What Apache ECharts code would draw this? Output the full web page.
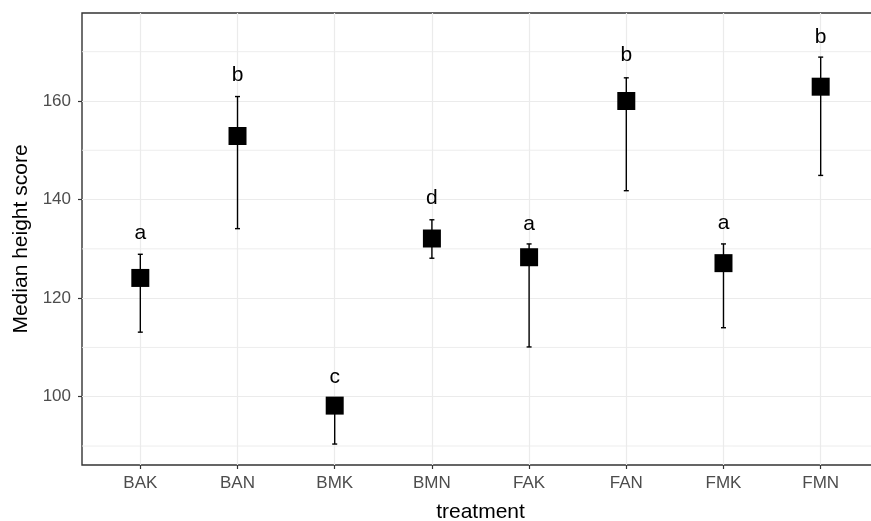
<!DOCTYPE html>
<html>
<head>
<meta charset="utf-8">
<script src="https://cdn.jsdelivr.net/npm/echarts@6/dist/echarts.min.js"></script>
<style>html,body{margin:0;padding:0;background:#fff}#c{width:871px;height:521px}</style>
</head>
<body>
<div id="c"></div>
<script>
const categories = ['BAK','BAN','BMK','BMN','FAK','FAN','FMK','FMN'];
const medians = [124.1, 152.9, 98.2, 132.1, 128.3, 160.0, 127.1, 162.9];
const upper = [128.9, 160.9, 99.6, 135.9, 131.0, 164.7, 131.0, 168.9];
const lower = [113.1, 134.1, 90.4, 128.1, 110.1, 141.8, 114.0, 144.9];
const letters = ['a','b','c','d','a','b','a','b'];
const letterY = [133.2, 165.3, 103.9, 140.3, 135.1, 169.2, 135.2, 173.0];
const yTicks = [100, 120, 140, 160];
const yMinor = [90, 110, 130, 150, 170];

const xPos = categories.map((c, i) => i + 1);
const font = 'Liberation Sans, Arial, sans-serif';

const chart = echarts.init(document.getElementById('c'), null, {renderer: 'canvas'});
chart.setOption({
  animation: false,
  backgroundColor: '#fff',
  grid: {left: 82, top: 13, width: 797, bottom: 56, containLabel: false, outerBoundsMode: 'none', show: true, borderColor: '#333', borderWidth: 1.4, backgroundColor: 'transparent'},
  xAxis: {
    type: 'value', min: 0.4, max: 8.6,
    name: 'treatment', nameLocation: 'middle', nameGap: 37,
    nameTextStyle: {color: '#000', fontSize: 21, fontFamily: font},
    axisLine: {show: false},
    axisTick: {show: true, customValues: xPos, length: 4, lineStyle: {color: '#333', width: 1.2}},
    axisLabel: {customValues: xPos, formatter: v => categories[Math.round(v) - 1] || '', color: '#4d4d4d', fontSize: 17, fontFamily: font, margin: 10},
    splitLine: {show: true, customValues: xPos, lineStyle: {color: '#ebebeb', width: 1.2}}
  },
  yAxis: {
    type: 'value', min: 86.15, max: 177.85,
    name: 'Median height score', nameLocation: 'middle', nameGap: 46,
    nameTextStyle: {color: '#000', fontSize: 21, fontFamily: font},
    axisLine: {show: false},
    axisTick: {show: true, customValues: yTicks, length: 4, lineStyle: {color: '#333', width: 1.2}},
    axisLabel: {customValues: yTicks, color: '#4d4d4d', fontSize: 17, fontFamily: font, margin: 11},
    splitLine: {show: true, customValues: yTicks, lineStyle: {color: '#ebebeb', width: 1.2}}
  },
  series: [
    {
      type: 'custom',
      silent: true,
      z: 1,
      data: yMinor.map(v => [v]),
      renderItem: function (params, api) {
        const v = api.value(0);
        const p1 = api.coord([0.4, v]);
        const p2 = api.coord([8.6, v]);
        return {type: 'line', shape: {x1: p1[0], y1: p1[1], x2: p2[0], y2: p2[1]}, style: {stroke: '#ebebeb', lineWidth: 0.9}};
      }
    },
    {
      type: 'custom',
      z: 3,
      data: xPos.map((x, i) => [x, lower[i], upper[i]]),
      renderItem: function (params, api) {
        const x = api.value(0);
        const lo = api.coord([x, api.value(1)]);
        const hi = api.coord([x, api.value(2)]);
        const cw = 2.5;
        const st = {stroke: '#000', lineWidth: 1.4};
        return {type: 'group', children: [
          {type: 'line', shape: {x1: lo[0], y1: lo[1], x2: hi[0], y2: hi[1]}, style: st},
          {type: 'line', shape: {x1: lo[0] - cw, y1: lo[1], x2: lo[0] + cw, y2: lo[1]}, style: st},
          {type: 'line', shape: {x1: hi[0] - cw, y1: hi[1], x2: hi[0] + cw, y2: hi[1]}, style: st}
        ]};
      }
    },
    {
      type: 'scatter',
      z: 4,
      symbol: 'rect',
      symbolSize: 18,
      itemStyle: {color: '#000', opacity: 1},
      data: xPos.map((x, i) => [x, medians[i]])
    },
    {
      type: 'scatter',
      z: 5,
      symbolSize: 0,
      itemStyle: {opacity: 1},
      data: xPos.map((x, i) => ({value: [x, letterY[i]], name: letters[i]})),
      label: {show: true, position: 'inside', formatter: p => p.name, color: '#000', fontSize: 21, fontFamily: font}
    }
  ]
});
</script>
</body>
</html>
